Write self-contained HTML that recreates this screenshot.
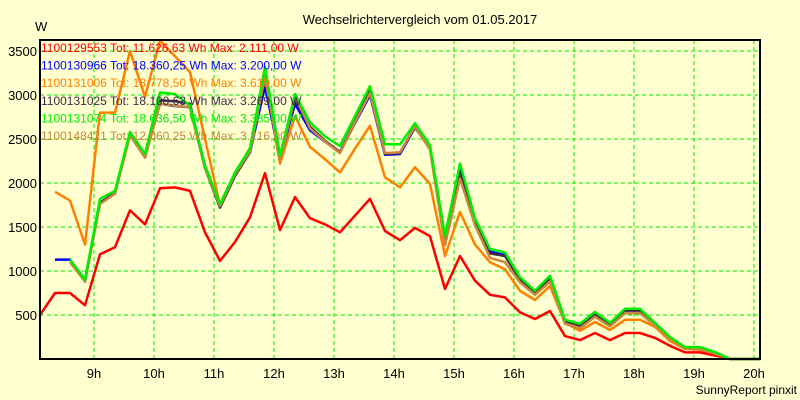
<!DOCTYPE html>
<html><head><meta charset="utf-8"><style>
body{margin:0;background:#ffffd0;}
svg{display:block;font-family:"Liberation Sans",sans-serif;}
</style></head><body>
<svg id="chart" width="800" height="400" viewBox="0 0 800 400" xmlns="http://www.w3.org/2000/svg">
<rect x="0" y="0" width="800" height="400" fill="#ffffd0"/>
<text x="420" y="24" font-size="13" text-anchor="middle" fill="#000">Wechselrichtervergleich vom 01.05.2017</text>
<text x="35" y="31" font-size="13" fill="#000">W</text>
<text x="797" y="394" font-size="12" text-anchor="end" fill="#000">SunnyReport pinxit</text>
<g id="grid"></g>
<g id="series"></g>
<g id="legend"></g>
<rect x="40" y="40" width="720" height="319" fill="none" stroke="#000" stroke-width="2"/>
</svg>
<script>
const hourLabels=["9h","10h","11h","12h","13h","14h","15h","16h","17h","18h","19h","20h"];
const yTicks=[500,1000,1500,2000,2500,3000,3500];
const seriesNames=["1100129553","1100130966","1100131006","1100131025","1100131074","1100148421"];
const seriesTotals=["11.626,63","18.360,25","18.778,50","18.100,63","18.636,50","12.060,25"];
const seriesMax=["2.111,00","3.200,00","3.619,00","3.269,00","3.385,00","3.216,00"];
const redVals=[500,750,750,610,1190,1270,1690,1530,1940,1950,1910,1440,1115,1330,1610,2111,1465,1840,1600,1530,1440,1630,1820,1455,1350,1490,1395,795,1170,890,730,700,530,455,545,260,215,295,215,295,295,240,150,75,75,40,0,0,0];
const blueVals=[null,1130,1130,900,1770,1890,2560,2300,2900,2875,2860,2170,1730,2090,2350,3100,2280,2900,2600,2470,2350,2680,3000,2320,2330,2630,2400,1350,2150,1580,1220,1180,910,760,930,435,390,520,400,560,560,400,245,130,130,75,0,0,0];
const orangeVals=[null,1900,1800,1300,2800,2800,3500,2980,3619,3440,3260,2500,1750,2100,2400,3200,2220,2760,2410,2270,2120,2390,2650,2065,1950,2180,1990,1170,1670,1300,1100,1020,775,670,830,410,320,420,330,445,445,365,205,115,105,50,0,0,0];
const darkVals=[null,null,1130,880,1780,1880,2560,2290,2940,2930,2900,2170,1720,2080,2350,3200,2270,2950,2640,2480,2350,2700,3050,2330,2340,2650,2400,1320,2120,1560,1200,1170,900,750,920,430,380,510,390,550,550,390,240,130,125,70,0,0,0];
const greenVals=[null,null,1130,900,1820,1910,2580,2330,3030,3010,2880,2200,1760,2120,2390,3320,2310,3010,2690,2530,2420,2760,3100,2440,2440,2680,2430,1400,2220,1600,1250,1210,930,775,945,445,400,535,410,570,570,410,250,135,135,80,0,0,0];
const brownVals=[null,null,1100,880,1760,1880,2540,2290,2900,2880,2860,2170,1740,2100,2360,3216,2250,2990,2620,2470,2340,2690,3020,2340,2350,2640,2380,1290,2050,1520,1150,1100,870,730,880,400,350,480,370,520,520,380,230,120,110,60,0,0,0];

const NS="http://www.w3.org/2000/svg";
const colors=["#ff0000","#0000ff","#ff8000","#402848","#00ee00","#c88840"];
const xIdx=i=>40+i*15;          // 15-minute steps
const xHour=h=>94+h*60;
const yVal=v=>359-v*0.088;
const grid=document.getElementById('grid');
hourLabels.forEach((lab,h)=>{
  const l=document.createElementNS(NS,'line');
  
  
  l.setAttribute('x1',xHour(h));l.setAttribute('x2',xHour(h));
  l.setAttribute('y1',40);l.setAttribute('y2',359);
  l.setAttribute('stroke','#00ee00');l.setAttribute('stroke-dasharray','4,3');
  grid.appendChild(l);
  const t=document.createElementNS(NS,'text');
  
  
  t.setAttribute('x',xHour(h));t.setAttribute('y',378);
  t.setAttribute('font-size','13');t.setAttribute('text-anchor','middle');
  t.textContent=lab;grid.appendChild(t);
});
yTicks.forEach(v=>{
  const l=document.createElementNS(NS,'line');
  
  
  l.setAttribute('x1',40);l.setAttribute('x2',760);
  l.setAttribute('y1',yVal(v));l.setAttribute('y2',yVal(v));
  l.setAttribute('stroke','#00ee00');l.setAttribute('stroke-dasharray','4,3');
  grid.appendChild(l);
  const t=document.createElementNS(NS,'text');
  
  
  t.setAttribute('x',37);t.setAttribute('y',yVal(v)+5);
  t.setAttribute('font-size','13');t.setAttribute('text-anchor','end');
  t.textContent=v;grid.appendChild(t);
});
const allVals=[redVals,blueVals,orangeVals,darkVals,greenVals,brownVals];
const drawOrder=[2,0,1,3,5,4];
const sg=document.getElementById('series');
drawOrder.forEach(s=>{
  let d='';let pen=false;
  allVals[s].forEach((v,i)=>{
    if(v===null){pen=false;return;}
    d+=(pen?'L':'M')+xIdx(i)+' '+yVal(v).toFixed(1)+' ';pen=true;
  });
  const p=document.createElementNS(NS,'path');
  
  
  p.setAttribute('d',d);p.setAttribute('fill','none');
  p.setAttribute('stroke',colors[s]);p.setAttribute('stroke-width','2.5');
  p.setAttribute('stroke-linejoin','round');
  sg.appendChild(p);
});
const lg=document.getElementById('legend');
seriesNames.forEach((n,s)=>{
  const t=document.createElementNS(NS,'text');
  
  
  t.setAttribute('x',41);t.setAttribute('y',52+s*17.6);
  t.setAttribute('font-size','12');t.setAttribute('fill',colors[s]);
  t.textContent=n+' Tot: '+seriesTotals[s]+' Wh Max: '+seriesMax[s]+' W';
  lg.appendChild(t);
});
</script>
</body></html>
